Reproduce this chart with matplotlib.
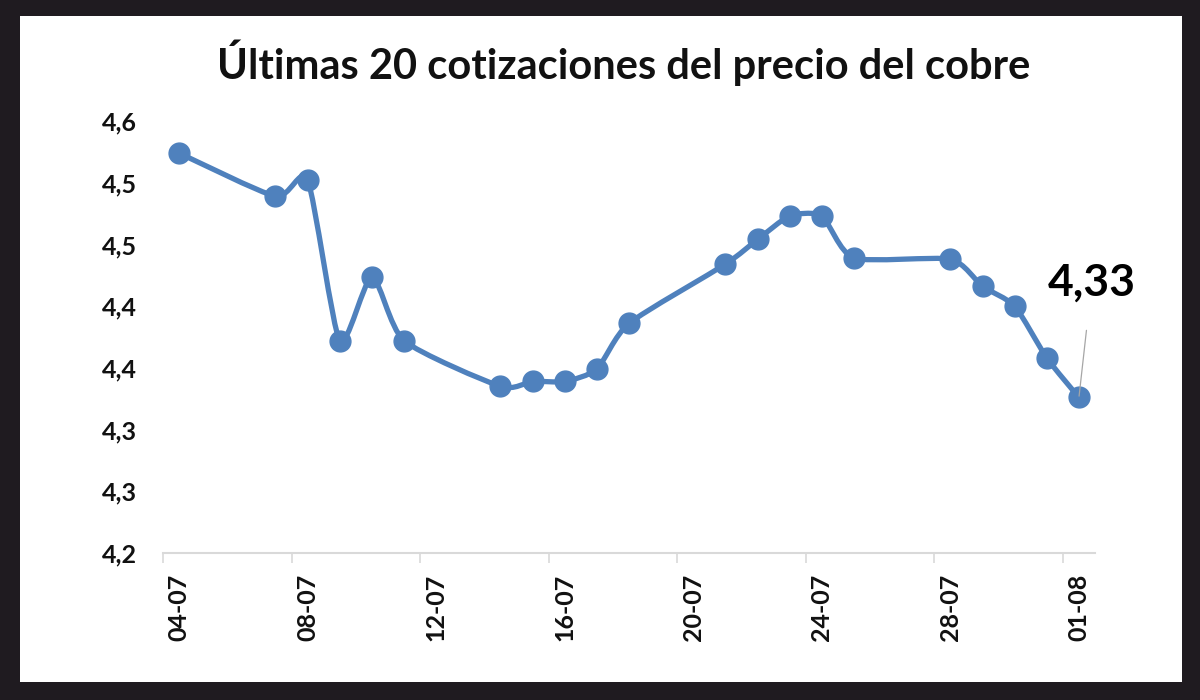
import matplotlib
matplotlib.use("Agg")
import matplotlib.pyplot as plt
from matplotlib.path import Path
from matplotlib.patches import PathPatch, Rectangle
import pandas as pd

# cotizaciones (dd-mm) y precio del cobre
dates = ["04-07", "07-07", "08-07", "09-07", "10-07", "11-07", "14-07",
         "15-07", "16-07", "17-07", "18-07", "21-07", "22-07", "23-07",
         "24-07", "25-07", "28-07", "29-07", "30-07", "31-07", "01-08"]
prices = [4.524, 4.489, 4.502, 4.372, 4.424, 4.372, 4.335,
          4.339, 4.339, 4.349, 4.386, 4.434, 4.454, 4.473,
          4.473, 4.439, 4.438, 4.416, 4.400, 4.358, 4.326]

xtick_labels = ["04-07", "08-07", "12-07", "16-07", "20-07", "24-07", "28-07", "01-08"]
ytick_values = [4.20, 4.25, 4.30, 4.35, 4.40, 4.45, 4.50, 4.55]
ytick_labels = ["4,2", "4,3", "4,3", "4,4", "4,4", "4,5", "4,5", "4,6"]
last_label = "4,33"
title = "Últimas 20 cotizaciones del precio del cobre"

plt.rcParams['font.family'] = ['Lato', 'DejaVu Sans']

blue = "#4F81BD"
grey = "#D9D9D9"

d = pd.to_datetime(dates, format="%d-%m")
d = d.map(lambda t: t.replace(year=2025))
start = d[0]
x = [(t - start).days for t in d]
xt = pd.to_datetime(xtick_labels, format="%d-%m").map(lambda t: t.replace(year=2025))
xt = [(t - start).days for t in xt]

fig = plt.figure(figsize=(12, 7), dpi=100, facecolor="#1f1b20")
fig.patches.append(Rectangle((20 / 1200, 18 / 700), 1162 / 1200, 666 / 700,
                             transform=fig.transFigure, facecolor="white",
                             edgecolor="none", zorder=-5))

ax = fig.add_axes([163 / 1200, 147 / 700, 932 / 1200, 432 / 700])
ax.set_facecolor("none")
ax.set_zorder(2)

# smoothed line (bezier through the points, like Excel)
pts = list(zip(x, prices))
k = 1 / 9
verts = [pts[0]]
codes = [Path.MOVETO]
for i in range(len(pts) - 1):
    p0 = pts[i - 1] if i > 0 else pts[i]
    p1 = pts[i]
    p2 = pts[i + 1]
    p3 = pts[i + 2] if i + 2 < len(pts) else pts[i + 1]
    c1 = (p1[0] + (p2[0] - p0[0]) * k, p1[1] + (p2[1] - p0[1]) * k)
    c2 = (p2[0] - (p3[0] - p1[0]) * k, p2[1] - (p3[1] - p1[1]) * k)
    verts += [c1, c2, p2]
    codes += [Path.CURVE4] * 3
ax.add_patch(PathPatch(Path(verts, codes), facecolor="none", edgecolor=blue,
                       lw=3.8, capstyle="round", joinstyle="round", zorder=2))
ax.plot(x, prices, "o", color=blue, markersize=15, zorder=3)

ax.annotate(last_label, xy=(x[-1], prices[-1]), xytext=(x[-1] + 0.4, 4.419),
            fontsize=32, fontweight="bold", ha="center", va="center",
            arrowprops=dict(arrowstyle="-", color="#A6A6A6", lw=0.9,
                            shrinkA=18, shrinkB=1))

ax.set_xlim(-0.5, x[-1] + 0.5)
ax.set_ylim(4.20, 4.55)

ax.set_xticks([v - 0.5 for v in xt])
ax.set_xticklabels([])
ax.set_xticks(xt, minor=True)
ax.set_xticklabels(xtick_labels, minor=True, rotation=90, fontsize=18,
                   fontweight="bold", color="#111111")
ax.tick_params(axis="x", which="major", length=7, width=1.2, color=grey)
ax.tick_params(axis="x", which="minor", length=0, pad=15)

ax.set_yticks(ytick_values)
ax.set_yticklabels(ytick_labels, fontsize=18, fontweight="bold", color="#111111")
ax.tick_params(axis="y", length=0, pad=19)

for s in ["left", "right", "top"]:
    ax.spines[s].set_visible(False)
ax.spines["bottom"].set_color(grey)
ax.spines["bottom"].set_linewidth(1.5)

fig.text(624 / 1200, 1 - 63 / 700, title, fontsize=30, fontweight="bold",
         ha="center", va="center", color="#111111")

fig.savefig("out.png", dpi=100, facecolor=fig.get_facecolor())
